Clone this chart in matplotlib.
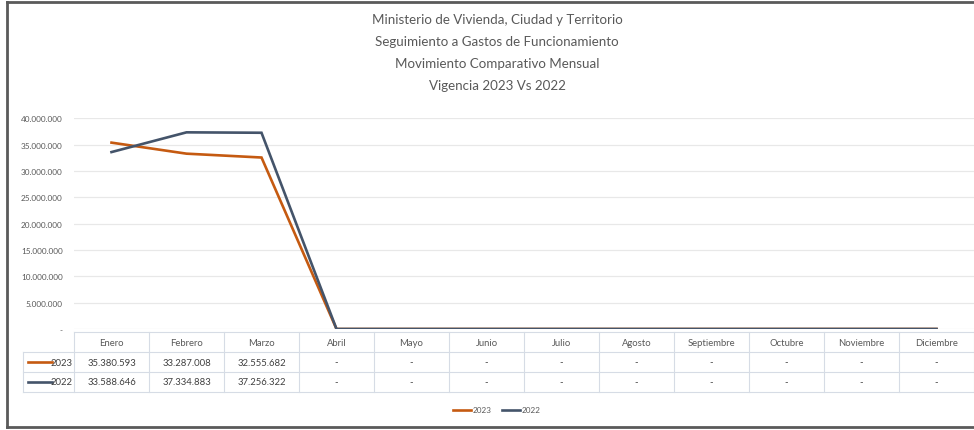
import numpy as np
import matplotlib.pyplot as plt
from matplotlib.lines import Line2D

plt.rcParams['font.family'] = ['Lato', 'DejaVu Sans']

titulo = ["Ministerio de Vivienda, Ciudad y Territorio",
          "Seguimiento a Gastos de Funcionamiento",
          "Movimiento Comparativo Mensual",
          "Vigencia 2023 Vs 2022"]
meses = ["Enero", "Febrero", "Marzo", "Abril", "Mayo", "Junio", "Julio",
         "Agosto", "Septiembre", "Octubre", "Noviembre", "Diciembre"]
v2023 = [35380593, 33287008, 32555682, 0, 0, 0, 0, 0, 0, 0, 0, 0]
v2022 = [33588646, 37334883, 37256322, 0, 0, 0, 0, 0, 0, 0, 0, 0]
series = ["2023", "2022"]
colores = ["#c55a11", "#44546a"]
yticks = [0, 5e6, 10e6, 15e6, 20e6, 25e6, 30e6, 35e6, 40e6]

W, H = 974, 431
fig = plt.figure(figsize=(W / 100, H / 100), dpi=100)


def fmt(v):
    if v == 0:
        return "-"
    return "{:,.0f}".format(v).replace(",", ".")


def px(x0, y0, w, h):
    # pixel box (top-left origin) -> figure fraction
    return [x0 / W, 1 - (y0 + h) / H, w / W, h / H]


# plot area
ax = fig.add_axes(px(74, 119.3, 900, 330 - 119.3))
x = np.arange(len(meses))
for vals, c, s in zip([v2023, v2022], colores, series):
    ax.plot(x, vals, color=c, lw=1.9, label=s, solid_joinstyle='miter')
ax.set_xlim(-0.5, 11.5)
ax.set_ylim(0, 40e6)
ax.set_yticks(yticks)
ax.set_yticklabels([fmt(v) for v in yticks], fontsize=5.9, color="#595959")
ax.tick_params(axis='y', length=0, pad=8)
ax.set_xticks([])
ax.grid(axis='y', color="#e8e8e8", lw=0.9)
ax.set_axisbelow(True)
for sp in ax.spines.values():
    sp.set_visible(False)

# data table
lab_w = 51 / 75
tab = fig.add_axes(px(23, 333, 951, 60))
tab.set_xlim(-0.5 - lab_w, 11.5)
tab.set_ylim(3, 0)
tab.axis('off')
gc = "#d6dce5"
tab.plot([-0.5, 11.5], [0, 0], color=gc, lw=0.8, clip_on=False)
for r in [1, 2, 3]:
    tab.plot([-0.5 - lab_w, 11.5], [r, r], color=gc, lw=0.8, clip_on=False)
for i in range(len(meses) + 1):
    tab.plot([i - 0.5, i - 0.5], [0, 3], color=gc, lw=0.8, clip_on=False)
tab.plot([-0.5 - lab_w] * 2, [1, 3], color=gc, lw=0.8, clip_on=False)
for i, m in enumerate(meses):
    tab.text(i, 0.5, m, ha='center', va='center', fontsize=6.8, color="#595959")
for r, (vals, c, s) in enumerate(zip([v2023, v2022], colores, series)):
    yy = r + 1.5
    tab.plot([-0.5 - lab_w + 0.07, -0.5 - 0.3], [yy, yy], color=c, lw=1.9, clip_on=False)
    tab.text(-0.52, yy, s, ha='right', va='center', fontsize=6.8, color="#404040")
    for i, v in enumerate(vals):
        tab.text(i, yy, fmt(v), ha='center', va='center', fontsize=6.8, color="#404040")

# title
for k, t in enumerate(titulo):
    fig.text(497 / W, 1 - (20 + 22 * k) / H, t, ha='center', va='center',
             fontsize=9.6, color="#595959")

# legend
handles = [Line2D([], [], color=c, lw=1.9) for c in colores]
fig.legend(handles, series, loc='center', bbox_to_anchor=(497 / W, 1 - 411 / H),
           ncol=2, frameon=False, fontsize=5.9, handlelength=2.2, handletextpad=0.2,
           columnspacing=1.2, labelcolor="#595959")

# outer frame
fc = "#5a5a5a"
fig.add_artist(Line2D([7 / W, 1], [1 - 3 / H] * 2, color=fc, lw=2.0))
fig.add_artist(Line2D([7 / W] * 2, [1 - 3 / H, 1 - 428 / H], color=fc, lw=2.0))
fig.add_artist(Line2D([7 / W, 1], [1 - 428 / H] * 2, color=fc, lw=2.0))

fig.savefig("out.png", dpi=100)
